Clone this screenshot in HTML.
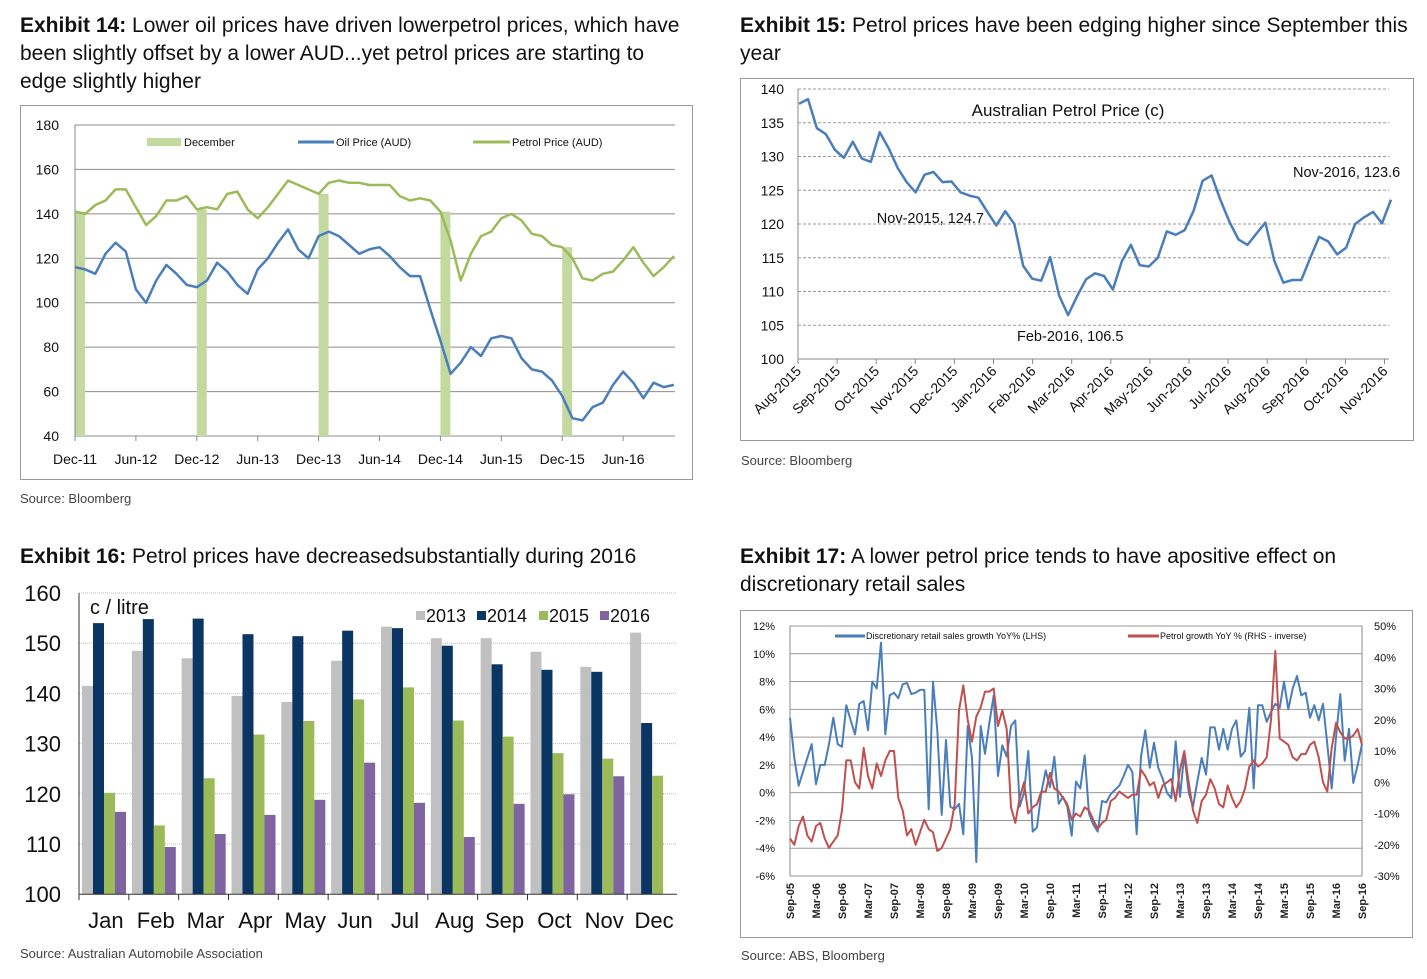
<!DOCTYPE html>
<html><head><meta charset="utf-8"><style>
body{margin:0;background:#fff;width:1427px;height:979px;overflow:hidden}
svg{display:block}
text{font-family:"Liberation Sans",sans-serif}
</style></head><body>
<svg id="s" width="1427" height="979" viewBox="0 0 1427 979" xmlns="http://www.w3.org/2000/svg">
<g font-size="21" fill="#111">
<text x="20" y="32"><tspan font-weight="bold">Exhibit 14:</tspan> Lower oil prices have driven lowerpetrol prices, which have</text>
<text x="20" y="60">been slightly offset by a lower AUD...yet petrol prices are starting to</text>
<text x="20" y="88">edge slightly higher</text></g>
<g font-size="21" fill="#111">
<text x="740" y="32"><tspan font-weight="bold">Exhibit 15:</tspan> Petrol prices have been edging higher since September this</text>
<text x="740" y="60">year</text></g>
<g font-size="21" fill="#111">
<text x="20" y="563"><tspan font-weight="bold">Exhibit 16:</tspan> Petrol prices have decreasedsubstantially during 2016</text></g>
<g font-size="21" fill="#111">
<text x="740" y="563"><tspan font-weight="bold">Exhibit 17:</tspan> A lower petrol price tends to have apositive effect on</text>
<text x="740" y="591">discretionary retail sales</text></g>
<text x="20" y="503" font-size="13" fill="#444">Source: Bloomberg</text>
<text x="741" y="465" font-size="13" fill="#444">Source: Bloomberg</text>
<text x="20" y="958" font-size="13" fill="#444">Source: Australian Automobile Association</text>
<text x="741" y="960" font-size="13" fill="#444">Source: ABS, Bloomberg</text>
</svg>
<script>
// ===== Exhibit 14 data (monthly Dec-11 .. Nov-16) =====
const ex14Oil=[116,115,113,122,127,123,106,100,110,117,113,108,107,110,118,114,108,104,115,120,127,133,124,120,130,132,130,126,122,124,125,121,116,112,112,97,83,68,73,80,76,84,85,84,75,70,69,65,58,48,47,53,55,63,69,64,57,64,62,63];
const ex14Petrol=[141,140,144,146,151,151,143,135,139,146,146,148,142,143,142,149,150,142,138,143,149,155,153,151,149,154,155,154,154,153,153,153,148,146,147,146,141,128,110,122,130,132,138,140,137,131,130,126,125,120,111,110,113,114,119,125,118,112,116,121];
const ex14YTicks=[40,60,80,100,120,140,160,180];
const ex14XLabels=["Dec-11","Jun-12","Dec-12","Jun-13","Dec-13","Jun-14","Dec-14","Jun-15","Dec-15","Jun-16"];
const ex14DecIdx=[0,12,24,36,48];
// ===== Exhibit 15 data (weekly-ish Aug-2015 .. Nov-2016) =====
const ex15Price=[137.8,138.5,134.2,133.3,131,129.8,132.2,129.7,129.2,133.6,131.2,128.3,126.2,124.7,127.3,127.7,126.2,126.3,124.7,124.2,123.9,121.8,119.8,121.9,120,113.8,111.9,111.6,115.1,109.4,106.5,109.3,111.8,112.7,112.3,110.3,114.5,116.9,113.9,113.7,115,118.9,118.4,119.1,122,126.4,127.2,123.5,120.3,117.7,116.9,118.6,120.2,114.5,111.3,111.7,111.7,115,118.1,117.4,115.5,116.5,120,121,121.8,120.1,123.6];
const ex15YTicks=[100,105,110,115,120,125,130,135,140];
const ex15XLabels=["Aug-2015","Sep-2015","Oct-2015","Nov-2015","Dec-2015","Jan-2016","Feb-2016","Mar-2016","Apr-2016","May-2016","Jun-2016","Jul-2016","Aug-2016","Sep-2016","Oct-2016","Nov-2016"];
// ===== Exhibit 16 data =====
const ex16Months=["Jan","Feb","Mar","Apr","May","Jun","Jul","Aug","Sep","Oct","Nov","Dec"];
const ex16Y2013=[141.5,148.5,147,139.5,138.3,146.5,153.3,151,151,148.3,145.3,152.1];
const ex16Y2014=[154,154.8,154.9,151.8,151.4,152.5,153,149.5,145.8,144.7,144.3,134.1];
const ex16Y2015=[120.2,113.7,123.1,131.8,134.5,138.8,141.2,134.6,131.4,128.1,127,123.6];
const ex16Y2016=[116.4,109.4,112,115.8,118.8,126.2,118.2,111.4,118,119.9,123.5,null];
const ex16YTicks=[100,110,120,130,140,150,160];
// ===== Exhibit 17 data (monthly Sep-05 .. Sep-16) =====
const ex17Retail=[5.4,2.5,0.5,1.5,2.5,3.5,0.6,2,2,3.5,5.4,3.5,3.3,6.3,5.2,4.2,6.4,6.6,4.5,8,7.5,10.8,4.2,7,7.2,6.8,7.8,7.9,7.1,7.2,7.4,7.4,-1.2,8,4.5,-1.6,3.8,-1,-1.2,-0.8,-3,4.8,2.5,-5,4.8,2.8,5,7,1.2,3.4,2.6,4.8,5.2,-1,0,3,-2.8,-2.5,0,1.6,0.4,2.6,-0.8,-0.3,-1,-3.1,0.8,0.3,2.7,-1.5,-2.3,-2.8,-0.6,-0.7,-0.1,0.2,0.5,1.2,2,1.5,-3,2.6,4.5,1.8,3.6,1.8,1,0,-0.4,3.7,-0.3,2.8,0,-1,0.8,2.5,1.3,4.7,4.7,3.1,4.6,3.1,4.6,5.2,2.6,3,6.1,0.3,6.3,6.3,5.1,5.8,6.4,6.1,8,6,7.5,8.4,7,7.2,5.4,6.3,5.2,6.4,3.5,0.3,4,7.1,2.3,4.6,0.7,2,3.5];
const ex17Petrol=[-18,-20,-14,-11,-17,-19,-14,-13,-18,-21,-19,-17,-9,7,7,0,-2,11,2,-2,6,2,7,10,10,-5,-9,-17,-15,-20,-16,-12,-15,-16,-22,-21,-18,-15,-7,23,31,20,13,21,24,29,29,30,18,23,17,-8,-13,-5,0,-10,-8,-7,-3,-3,3,-2,-3,-5,-7,-12,-10,-11,-8,-9,-12,-15,-13,-12,-6,-5,-3,-4,-5,-4,-4,4,2,-1,0,-5,-1,0,1,-6,4,10,0,-9,-13,-6,-4,1,-2,-7,-8,-1,-5,-8,-6,-2,5,7,5,6,8,20,42,14,13,12,8,7,9,9,12,13,8,0,-3,11,19,16,14,14,15,17,12];
const ex17LTicks=[-6,-4,-2,0,2,4,6,8,10,12];
const ex17RTicks=[-30,-20,-10,0,10,20,30,40,50];
const ex17XLabels=["Sep-05","Mar-06","Sep-06","Mar-07","Sep-07","Mar-08","Sep-08","Mar-09","Sep-09","Mar-10","Sep-10","Mar-11","Sep-11","Mar-12","Sep-12","Mar-13","Sep-13","Mar-14","Sep-14","Mar-15","Sep-15","Mar-16","Sep-16"];

const S=document.getElementById('s');
const NS='http://www.w3.org/2000/svg';
function mk(tag,attrs,parent,txt){const e=document.createElementNS(NS,tag);for(const k in attrs)e.setAttribute(k,attrs[k]);if(txt!==undefined)e.textContent=txt;(parent||S).appendChild(e);return e;}
function grp(){return mk('g',{});}
function pathFrom(vals,xf,yf){let d='';vals.forEach((v,i)=>{if(v===null)return;d+=(d?'L':'M')+xf(i).toFixed(1)+','+yf(v).toFixed(1);});return d;}
let e;

// ================= Exhibit 14 =================
const g14=grp();


e=mk('rect',{x:20.5,y:105.5,width:672,height:374,fill:'none',stroke:'#999'},g14);


const x14=m=>75+m*10.15, y14=v=>125+(180-v)*311/140;
ex14YTicks.forEach(t=>{
  e=mk('line',{x1:75,x2:675,y1:y14(t),y2:y14(t),stroke:'#8c8c8c','stroke-width':1},g14);
  
  
  e=mk('text',{x:59,y:y14(t)+5,'text-anchor':'end','font-size':14,fill:'#111'},g14,String(t));
  
  
});
ex14DecIdx.forEach(m=>{
  e=mk('rect',{x:x14(m),y:y14(ex14Petrol[m]),width:10,height:y14(40)-y14(ex14Petrol[m]),fill:'#c4d9a0'},g14);
  
  
});
e=mk('line',{x1:75,x2:75,y1:125,y2:y14(40),stroke:'#888'},g14);


ex14XLabels.forEach((l,i)=>{
  const x=x14(i*6);
  e=mk('line',{x1:x,x2:x,y1:y14(40),y2:y14(40)+5,stroke:'#888'},g14);
  
  
  e=mk('text',{x:x,y:464,'text-anchor':'middle','font-size':14,fill:'#111'},g14,l);
  
  
});
e=mk('path',{d:pathFrom(ex14Petrol,x14,y14),fill:'none',stroke:'#9bbb59','stroke-width':2.5,'stroke-linejoin':'round'},g14);


e=mk('path',{d:pathFrom(ex14Oil,x14,y14),fill:'none',stroke:'#4a7ebb','stroke-width':2.5,'stroke-linejoin':'round'},g14);


e=mk('rect',{x:147,y:138,width:34,height:8,fill:'#c4d9a0'},g14);


e=mk('text',{x:184,y:146,'font-size':11,fill:'#111'},g14,'December');


e=mk('line',{x1:298,x2:334,y1:142,y2:142,stroke:'#4a7ebb','stroke-width':3},g14);


e=mk('text',{x:336,y:146,'font-size':11,fill:'#111'},g14,'Oil Price (AUD)');


e=mk('line',{x1:473,x2:510,y1:142,y2:142,stroke:'#9bbb59','stroke-width':3},g14);


e=mk('text',{x:512,y:146,'font-size':11,fill:'#111'},g14,'Petrol Price (AUD)');



// ================= Exhibit 15 =================
const g15=grp();


e=mk('rect',{x:740.5,y:78.5,width:673,height:362,fill:'none',stroke:'#999'},g15);


const x15=i=>799+i*592/(ex15Price.length-1), y15=v=>89+(140-v)*270/40;
ex15YTics=ex15YTicks;
ex15YTicks.forEach(t=>{
  e=mk('line',{x1:798,x2:1389,y1:y15(t),y2:y15(t),stroke:t===100?'#888':'#999','stroke-dasharray':t===100?'':'3,2'},g15);
  
  
  e=mk('text',{x:784,y:y15(t)+5,'text-anchor':'end','font-size':14,fill:'#111'},g15,String(t));
  
  
});
e=mk('line',{x1:798,x2:798,y1:89,y2:y15(100),stroke:'#888'},g15);


ex15XLabels.forEach((l,i)=>{
  const x=798+i*39.1;
  e=mk('line',{x1:x,x2:x,y1:y15(100),y2:y15(100)+5,stroke:'#888'},g15);
  
  
  e=mk('text',{x:x+4,y:372,'text-anchor':'end','font-size':14,fill:'#111',transform:`rotate(-45 ${x+4} 372)`},g15,l);
  
  
});
e=mk('path',{d:pathFrom(ex15Price,x15,y15),fill:'none',stroke:'#4a7ebb','stroke-width':2.5,'stroke-linejoin':'round'},g15);


e=mk('text',{x:1068,y:116,'text-anchor':'middle','font-size':17,fill:'#111'},g15,'Australian Petrol Price (c)');


e=mk('text',{x:984,y:223,'text-anchor':'end','font-size':14.5,fill:'#111'},g15,'Nov-2015, 124.7');


e=mk('text',{x:1017,y:341,'font-size':14.5,fill:'#111'},g15,'Feb-2016, 106.5');


e=mk('text',{x:1293,y:177,'font-size':14.5,fill:'#111'},g15,'Nov-2016, 123.6');



// ================= Exhibit 16 =================
const g16=grp();


const y16=v=>593+(160-v)*5.02, gw=49.83, gx=i=>79+i*gw;
ex16YTicks.forEach(t=>{
  if(t>100){e=mk('line',{x1:79,x2:677,y1:y16(t),y2:y16(t),stroke:'#bbb','stroke-dasharray':'1,1'},g16);
  
  }
  e=mk('text',{x:61,y:y16(t)+8,'text-anchor':'end','font-size':22,fill:'#111'},g16,String(t));
  
  
});
const series16=[[ex16Y2013,'#c0c0c0','2013'],[ex16Y2014,'#0b3563','2014'],[ex16Y2015,'#9bbb59','2015'],[ex16Y2016,'#8064a2','2016']];
series16.forEach(([vals,col,name],j)=>{
  vals.forEach((v,i)=>{
    if(v===null)return;
    e=mk('rect',{x:gx(i)+3+j*11,y:y16(v),width:11,height:y16(100)-y16(v),fill:col},g16);
    
    
  });
  const lx=[416,477,539,600][j];
  e=mk('rect',{x:lx,y:611,width:9,height:9,fill:col},g16);
  
  
  e=mk('text',{x:lx+10,y:622,'font-size':18,fill:'#111'},g16,name);
  
  
});
e=mk('line',{x1:79,x2:79,y1:593,y2:y16(100),stroke:'#333'},g16);


e=mk('line',{x1:79,x2:677,y1:y16(100),y2:y16(100),stroke:'#333'},g16);


ex16Months.forEach((m,i)=>{
  e=mk('line',{x1:gx(i),x2:gx(i),y1:y16(100),y2:y16(100)+6,stroke:'#333'},g16);
  
  
  e=mk('text',{x:gx(i)+gw/2+2,y:928,'text-anchor':'middle','font-size':22,fill:'#111'},g16,m);
  
  
});
e=mk('text',{x:90,y:614,'font-size':20,fill:'#111'},g16,'c / litre');



// ================= Exhibit 17 =================
const g17=grp();


e=mk('rect',{x:740.5,y:610.5,width:672,height:327,fill:'none',stroke:'#999'},g17);


const x17=i=>790+i*572/(ex17Retail.length-1), yL=v=>626+(12-v)*250/18, yR=v=>626+(50-v)*250/80;
ex17LTicks.forEach(t=>{
  e=mk('line',{x1:790,x2:1362,y1:yL(t),y2:yL(t),stroke:'#999'},g17);
  
  
  e=mk('text',{x:775,y:yL(t)+4,'text-anchor':'end','font-size':11,fill:'#111'},g17,t+'%');
  
  
});
ex17RTicks.forEach(t=>{
  e=mk('text',{x:1374,y:yR(t)+4,'font-size':11,fill:'#111'},g17,t+'%');
  
  
});
e=mk('line',{x1:790,x2:790,y1:626,y2:876,stroke:'#888'},g17);


e=mk('line',{x1:1362,x2:1362,y1:626,y2:876,stroke:'#888'},g17);


ex17XLabels.forEach((l,k)=>{
  const x=x17(k*6);
  e=mk('text',{x:x+4,y:883,'text-anchor':'end','font-size':11,'font-weight':'bold',fill:'#222',transform:`rotate(-90 ${x+4} 883)`},g17,l);
  
  
});
e=mk('path',{d:pathFrom(ex17Retail,x17,yL),fill:'none',stroke:'#4a7ebb','stroke-width':2,'stroke-linejoin':'round'},g17);


e=mk('path',{d:pathFrom(ex17Petrol,x17,yR),fill:'none',stroke:'#c0504d','stroke-width':2,'stroke-linejoin':'round'},g17);


e=mk('line',{x1:835,x2:865,y1:636,y2:636,stroke:'#4a7ebb','stroke-width':3},g17);


e=mk('text',{x:866,y:639,'font-size':9,fill:'#111'},g17,'Discretionary retail sales growth YoY% (LHS)');


e=mk('line',{x1:1128,x2:1159,y1:636,y2:636,stroke:'#c0504d','stroke-width':3},g17);


e=mk('text',{x:1160,y:639,'font-size':9,fill:'#111'},g17,'Petrol growth YoY % (RHS - inverse)');


</script>
</body></html>
